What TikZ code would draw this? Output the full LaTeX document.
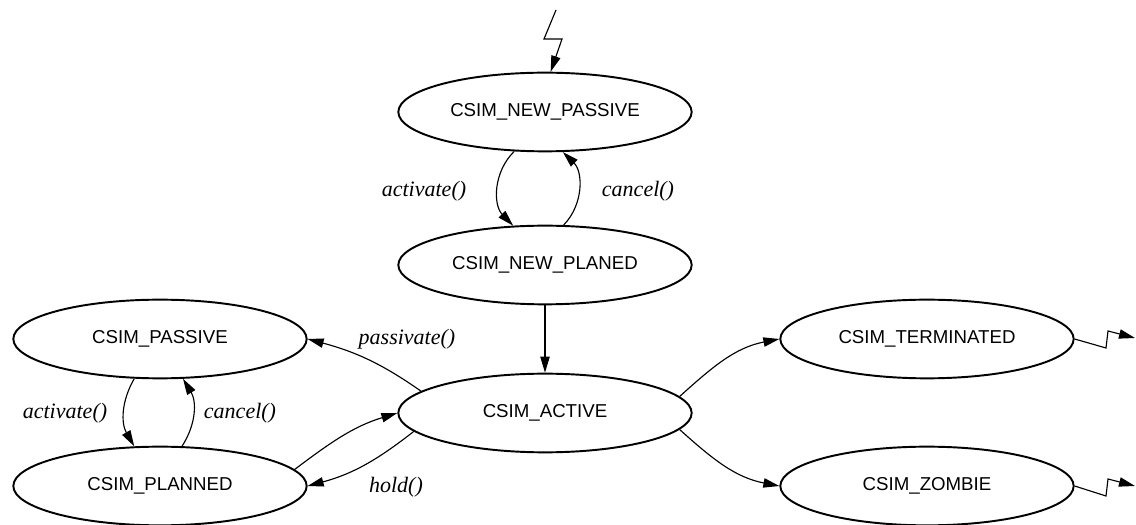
\documentclass[tikz,border=0pt]{standalone}
\usepackage{fontspec}
\setmainfont{Liberation Serif}
\setsansfont{Liberation Sans}
\usetikzlibrary{shapes.geometric,arrows.meta}

\begin{document}
\begin{tikzpicture}[
			x=0.75pt, y=0.75pt,
			main/.style = {draw, ellipse, line width=1.45pt, minimum width=220pt, minimum height=59pt, inner sep=0pt, font=\sffamily\fontsize{14}{16}\selectfont},
			lbl/.style = {inner sep=0pt, font=\itshape\fontsize{16.5}{19}\selectfont},
			trans/.style = {line width=0.85pt, -{Triangle[length=12pt,width=7pt]}}
		]
		\useasboundingbox (0,0) rectangle (1136,525);
		% Centre column.
		\node[main] (np) at (545,413) {CSIM\_NEW\_PASSIVE};
		\node[main] (npl) at (545,260) {CSIM\_NEW\_PLANED};
		\node[main] (act) at (545,112) {CSIM\_ACTIVE};
		% Left column.
		\node[main] (pas) at (160,186) {CSIM\_PASSIVE};
		\node[main] (pla) at (160,39) {CSIM\_PLANNED};
		% Right column.
		\node[main] (ter) at (927,186) {CSIM\_TERMINATED};
		\node[main] (zom) at (927,39) {CSIM\_ZOMBIE};
		% Labels.
		\node[lbl] (lact1) at (424,334) {activate()};
		\node[lbl] (lcan1) at (638,334) {cancel()};
		\node[lbl] (lact2) at (65,112) {activate()};
		\node[lbl] (lcan2) at (240,112) {cancel()};
		\node[lbl] (lpas) at (407,186) {passivate()};
		\node[lbl] (lhold) at (396,38) {hold()};
		% Free ends.
		\coordinate (start) at (556,515);
		\coordinate (terend) at (1135,187);
		\coordinate (zomend) at (1135,39);
		
		\draw[trans] (start) -- (544,486) -- (562,486) -- (np.82);
		\draw[trans] (np.232) to[bend right=45] (npl.129);
		\draw[trans] (npl.65) to[bend right=45] (np.294);
		\draw[trans] (npl) -- (act);
		\draw[trans] (act.170) to[out=145, in=-15] (pas.east);
		\draw[trans] (pas.237) to[bend right=30] (pla.123);
		\draw[trans] (pla.61) to[bend right=32] (pas.300);
		\draw[trans] (pla.7) to[out=37, in=197] (act.west);
		\draw[trans] (act.188) to[out=218, in=15] (pla.east);
		\draw[trans] (act.7) to[out=42, in=191] (ter.west);
		\draw[trans] (act.353) to[out=-42, in=169] (zom.west);
		\draw[trans] (ter.east) -- (1106,177) -- (1108,194) -- (terend);
		\draw[trans] (zom.east) -- (1106,29) -- (1108,46) -- (zomend);
	\end{tikzpicture}
\end{document}
